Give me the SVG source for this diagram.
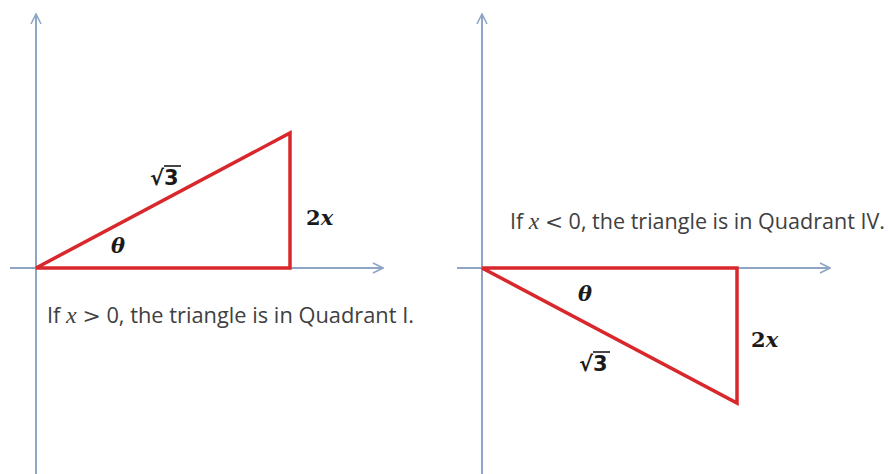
<svg xmlns="http://www.w3.org/2000/svg" width="888" height="474" viewBox="0 0 888 474">
<style>
.axis{stroke:#8ea6c6;stroke-width:2;fill:none}
.tri{stroke:#d8282c;stroke-width:3.5;fill:none;stroke-linejoin:miter}
.lbl{font-family:"DejaVu Serif","Liberation Serif",serif;font-weight:bold;font-size:21px;fill:#1a1a1a}
.it{font-style:italic}
.rad{font-family:"DejaVu Sans","Liberation Sans",sans-serif;font-weight:bold;font-size:21px;fill:#1a1a1a}
.txt{font-family:"Open Sans","Liberation Sans",sans-serif;font-size:21px;fill:#404040}
.mx{font-family:"Liberation Serif","DejaVu Serif",serif;font-style:italic;font-size:23px}
.mo{font-family:"DejaVu Serif","Liberation Serif",serif}
</style>
<defs>
<marker id="chev" viewBox="0 0 12 12" refX="11" refY="6" markerWidth="12" markerHeight="12" markerUnits="userSpaceOnUse" orient="auto">
<path d="M1,1 L11,6 L1,11" fill="none" stroke="#8ea6c6" stroke-width="1.6"/>
</marker>
</defs>
<g id="connectors">
<line class="axis" x1="36" y1="474" x2="36" y2="14" marker-end="url(#chev)"/>
<line class="axis" x1="10" y1="268" x2="383" y2="268" marker-end="url(#chev)"/>
<line class="axis" x1="482" y1="474" x2="482" y2="14" marker-end="url(#chev)"/>
<line class="axis" x1="457" y1="268" x2="830" y2="268" marker-end="url(#chev)"/>
</g>
<g id="triangle1">
<path class="tri" d="M36,268 L290,268 L290,133 Z"/>
<text class="rad" x="150" y="185">√3</text>
<line x1="164" y1="166" x2="181" y2="166" stroke="#1a1a1a" stroke-width="1.6"/>
<text class="lbl it" x="111" y="253">θ</text>
<text class="lbl" x="306" y="225">2<tspan class="it">x</tspan></text>
<text class="txt" x="47" y="323" textLength="367" lengthAdjust="spacingAndGlyphs">If <tspan class="mx">x</tspan> <tspan class="mo">&gt;</tspan> 0, the triangle is in Quadrant I.</text>
</g>
<g id="triangle2">
<path class="tri" d="M482,268 L737,268 L737,403 Z"/>
<text class="lbl it" x="578" y="301">θ</text>
<text class="lbl" x="751" y="347">2<tspan class="it">x</tspan></text>
<text class="rad" x="579" y="371">√3</text>
<line x1="593" y1="352" x2="610" y2="352" stroke="#1a1a1a" stroke-width="1.6"/>
<text class="txt" x="510" y="229" textLength="375" lengthAdjust="spacingAndGlyphs">If <tspan class="mx">x</tspan> <tspan class="mo">&lt;</tspan> 0, the triangle is in Quadrant IV.</text>
</g>
</svg>
